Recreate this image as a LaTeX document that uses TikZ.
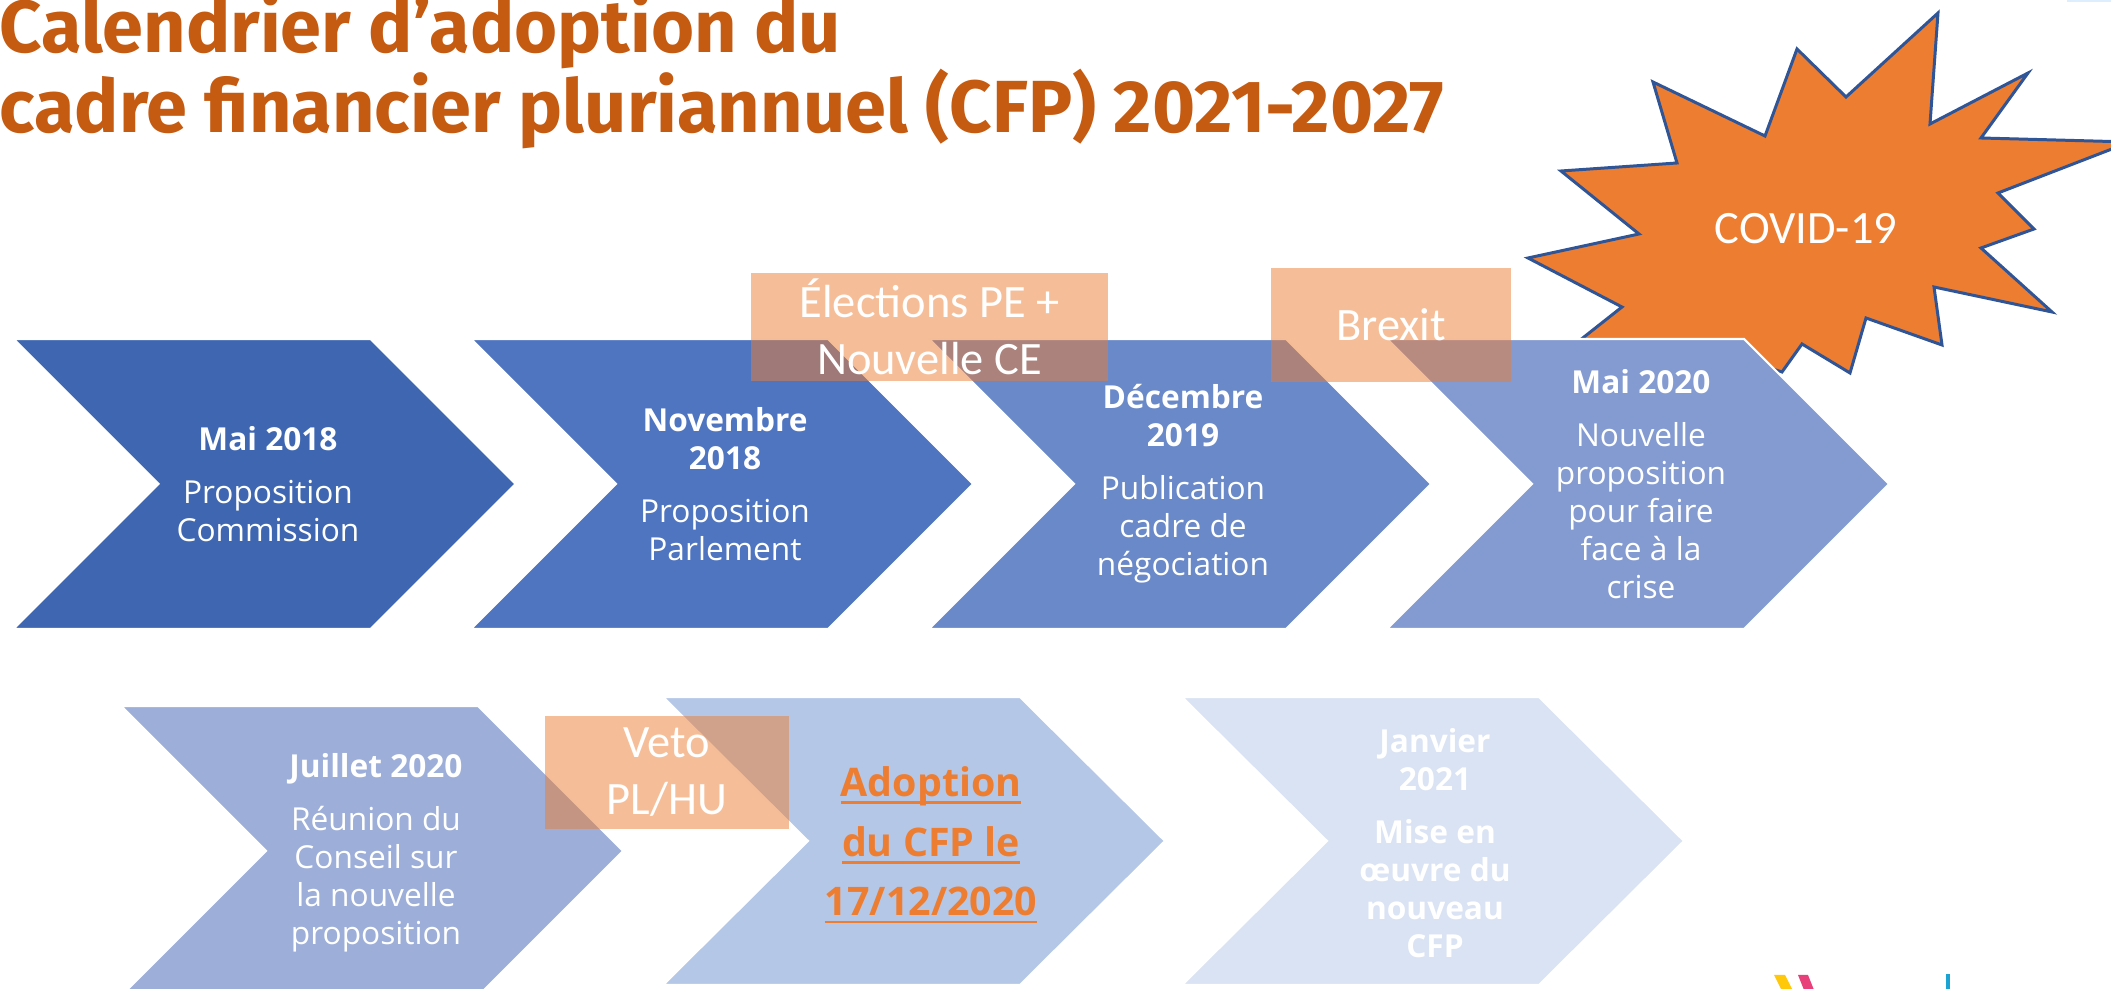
\documentclass[tikz,border=0pt]{standalone}
\usepackage{fontspec}
\setmainfont{Open Sans}
\newfontfamily\titlefont{Fira Sans}
\newfontfamily\calfont{Carlito}
\newsavebox\ulbox
\newcommand{\uln}[1]{\sbox\ulbox{#1}\rlap{\rule[-0.19em]{\wd\ulbox}{0.075em}}\usebox\ulbox}
\definecolor{cA}{RGB}{63,103,177}
\definecolor{cB}{RGB}{79,117,192}
\definecolor{cC}{RGB}{106,137,200}
\definecolor{cD}{RGB}{132,155,210}
\definecolor{cE}{RGB}{157,174,216}
\definecolor{cF}{RGB}{180,199,231}
\definecolor{cG}{RGB}{218,227,243}
\definecolor{titleC}{RGB}{197,90,17}
\definecolor{boxorange}{RGB}{237,125,49}
\definecolor{starblue}{RGB}{47,85,151}
\definecolor{logoY}{RGB}{255,200,10}
\definecolor{logoP}{RGB}{232,64,122}
\definecolor{logoB}{RGB}{26,163,211}
\definecolor{paleblue}{RGB}{221,238,255}
\newcommand{\chevshape}[4]{\path[fill=#4, chev] (#1,#2) -- ++(357,0) -- ++(145,#3) -- ++(-145,#3) -- ++(-357,0) -- ++(145,-#3) -- cycle;}
\begin{document}
\begin{tikzpicture}[x=0.01cm,y=-0.01cm,
  chev/.style={draw=white, line width=0.6pt},
  lbl/.style={font=\fontsize{9}{10.8}\selectfont, text=white, align=center, inner sep=0pt},
  lblbold/.style={lbl, font=\fontsize{9}{10.8}\selectfont\bfseries},
  obox/.style={fill=boxorange, fill opacity=0.5, text opacity=1, text=white,
    font=\calfont\fontsize{13.2}{16.2}\selectfont, align=center, inner sep=0pt},
  ttl/.style={anchor=base west, inner sep=0pt, font=\titlefont\bfseries\fontsize{21}{25}\selectfont, text=titleC}]
\useasboundingbox (0,0) rectangle (2111,989);
\clip (0,0) rectangle (2111,989);

% title
\node[ttl] (title1) at (-1,53) {Calendrier d’adoption du};
\node[ttl] (title2) at (-1,133) {cadre financier pluriannuel (CFP) 2021-2027};

% COVID star
\filldraw[fill=boxorange, draw=starblue, line width=0.85pt]
 (1938,13) -- (1930,124) -- (2028,73) -- (1981,138) -- (2130,142) -- (1998,193)
 -- (2034,229) -- (1981,248) -- (2052,312) -- (1934,287) -- (1942,345) -- (1866,318)
 -- (1850,373) -- (1802,344) -- (1782,372) -- (1700,345) -- (1565,352) -- (1622,307)
 -- (1528,258) -- (1639,234) -- (1561,171) -- (1677,163) -- (1653,82) -- (1765,136)
 -- (1797,49) -- (1846,97) -- cycle;
\node[font=\calfont\fontsize{13.2}{16}\selectfont, text=white] (covid) at (1806,229) {COVID-19};

% chevrons row 1
\chevshape{13.5}{339}{145}{cA}
\chevshape{471}{339}{145}{cB}
\chevshape{929}{339}{145}{cC}
\chevshape{1387}{339}{145}{cD}
% chevrons row 2
\chevshape{121}{706}{145}{cE}
\chevshape{663}{697}{144}{cF}
\chevshape{1182}{697}{144}{cG}

% chevron texts
\node[lbl] (t1) at (268,484) {\textbf{Mai 2018}\\[4.2pt] Proposition\\ Commission};
\node[lbl] (t2) at (725,484) {\textbf{Novembre}\\ \textbf{2018}\\[4.2pt] Proposition\\ Parlement};
\node[lbl] (t3) at (1183,484) {\textbf{Décembre}\\ \textbf{2019}\\[4.2pt] Publication\\ cadre de\\ négociation};
\node[lbl] (t4) at (1641,484) {\textbf{Mai 2020}\\[4.2pt] Nouvelle\\ proposition\\ pour faire\\ face à la\\ crise};
\node[lbl] (t5) at (376,853) {\textbf{Juillet 2020}\\[4.2pt] Réunion du\\ Conseil sur\\ la nouvelle\\ proposition};
\node[lbl, font=\fontsize{11.2}{17}\selectfont\bfseries, text=boxorange] (t6) at (931,845)
  {\uln{Adoption}\\ \uln{du CFP le}\\ \uln{17/12/2020}};
\node[lblbold] (t7) at (1435,843) {Janvier\\ 2021\\[4.2pt] Mise en\\ œuvre du\\ nouveau\\ CFP};

% orange event boxes
\node[obox, minimum width=3.57cm, minimum height=1.08cm] (elections) at (929.5,327) {Élections PE +\\ Nouvelle CE};
\node[obox, minimum width=2.40cm, minimum height=1.14cm] (brexit) at (1391,325) {Brexit};
\node[obox, minimum width=2.44cm, minimum height=1.13cm] (veto) at (667,772.5) {Veto\\ PL/HU};

% partial logo and edge mark
\fill[logoY] (1774,975) -- (1785,975) -- (1795,995) -- (1784,995) -- cycle;
\fill[logoP] (1798,975) -- (1808,975) -- (1816,995) -- (1806,995) -- cycle;
\fill[logoB] (1946,974) rectangle (1950,995);
\fill[paleblue] (2067,0) rectangle (2111,2);
\end{tikzpicture}
\end{document}
